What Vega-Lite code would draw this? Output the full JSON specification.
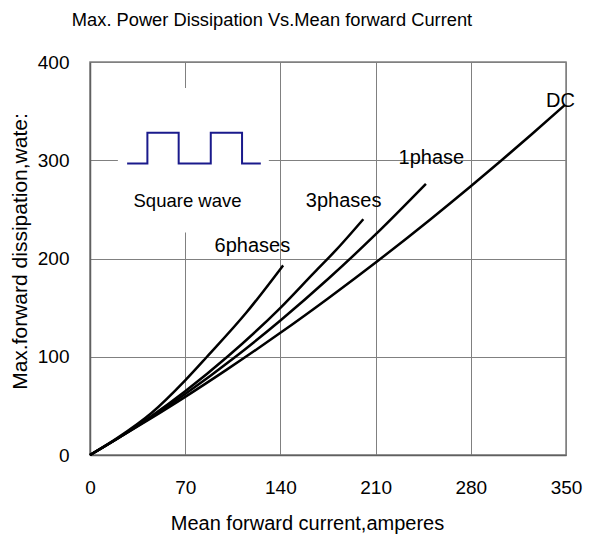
{
  "$schema": "https://vega.github.io/schema/vega-lite/v6.json",
  "width": 476,
  "height": 393,
  "autosize": {"type": "none"},
  "padding": {"left": 90, "top": 62, "right": 24, "bottom": 80},
  "background": "white",
  "config": {
    "view": {"stroke": "#808080", "strokeWidth": 1.5},
    "font": "Liberation Sans",
    "axis": {
      "labelFont": "Liberation Sans",
      "titleFont": "Liberation Sans",
      "labelColor": "black",
      "titleColor": "black",
      "titleFontWeight": "normal",
      "ticks": false,
      "gridColor": "#808080",
      "gridWidth": 1,
      "gridOpacity": 1,
      "domainColor": "#606060",
      "domainWidth": 1.5
    }
  },
  "title": {
    "text": "Max. Power Dissipation Vs.Mean forward Current",
    "font": "Liberation Sans",
    "fontSize": 18.3,
    "fontWeight": "normal",
    "color": "black",
    "anchor": "middle",
    "frame": "group",
    "dx": -56,
    "offset": 23
  },
  "datasets": {
    "curves": [
      {"series": "DC", "current": 0, "power": 0},
      {"series": "DC", "current": 20, "power": 16.5},
      {"series": "DC", "current": 45, "power": 37.5},
      {"series": "DC", "current": 70, "power": 59.2},
      {"series": "DC", "current": 100, "power": 86.4},
      {"series": "DC", "current": 140, "power": 124.4},
      {"series": "DC", "current": 175, "power": 159.4},
      {"series": "DC", "current": 212, "power": 198},
      {"series": "DC", "current": 250, "power": 239.5},
      {"series": "DC", "current": 280, "power": 273.5},
      {"series": "DC", "current": 302, "power": 299.2},
      {"series": "DC", "current": 325, "power": 326.7},
      {"series": "DC", "current": 349, "power": 356},
      {"series": "1phase", "current": 0, "power": 0},
      {"series": "1phase", "current": 20, "power": 16.5},
      {"series": "1phase", "current": 45, "power": 38.4},
      {"series": "1phase", "current": 70, "power": 62},
      {"series": "1phase", "current": 107, "power": 100},
      {"series": "1phase", "current": 140, "power": 136.9},
      {"series": "1phase", "current": 175, "power": 179.1},
      {"series": "1phase", "current": 210, "power": 224.5},
      {"series": "1phase", "current": 247, "power": 276},
      {"series": "3phases", "current": 0, "power": 0},
      {"series": "3phases", "current": 20, "power": 16.6},
      {"series": "3phases", "current": 45, "power": 39.4},
      {"series": "3phases", "current": 70, "power": 64.9},
      {"series": "3phases", "current": 101, "power": 100},
      {"series": "3phases", "current": 140, "power": 149.8},
      {"series": "3phases", "current": 165, "power": 185.9},
      {"series": "3phases", "current": 181, "power": 208.7},
      {"series": "3phases", "current": 201, "power": 240},
      {"series": "6phases", "current": 0, "power": 0},
      {"series": "6phases", "current": 20, "power": 17.2},
      {"series": "6phases", "current": 45, "power": 42.5},
      {"series": "6phases", "current": 70, "power": 76},
      {"series": "6phases", "current": 86, "power": 100},
      {"series": "6phases", "current": 115, "power": 145},
      {"series": "6phases", "current": 142, "power": 193}
    ],
    "box": [
      {"x1": 20.5, "x2": 131.5, "y1": 226.5, "y2": 373.5}
    ],
    "wave": [
      {"order": 1, "current": 27.3, "power": 296.6},
      {"order": 2, "current": 42.2, "power": 296.6},
      {"order": 3, "current": 42.2, "power": 328},
      {"order": 4, "current": 65.2, "power": 328},
      {"order": 5, "current": 65.2, "power": 296.6},
      {"order": 6, "current": 88.8, "power": 296.6},
      {"order": 7, "current": 88.8, "power": 328},
      {"order": 8, "current": 111.8, "power": 328},
      {"order": 9, "current": 111.8, "power": 296.6},
      {"order": 10, "current": 125.6, "power": 296.6}
    ],
    "labels": [
      {"label": "DC", "current": 346, "power": 360},
      {"label": "1phase", "current": 251, "power": 302.7},
      {"label": "3phases", "current": 186.5, "power": 258.6},
      {"label": "6phases", "current": 119.4, "power": 212.9},
      {"label": "Square wave", "current": 71.7, "power": 258.8}
    ]
  },
  "layer": [
    {
      "data": {"name": "curves"},
      "mark": {"type": "line", "color": "black", "strokeWidth": 2.5, "interpolate": "monotone"},
      "encoding": {
        "x": {
          "field": "current",
          "type": "quantitative",
          "scale": {"domain": [0, 350], "nice": false},
          "axis": {
            "values": [0, 70, 140, 210, 280, 350],
            "title": "Mean forward current,amperes",
            "titleFontSize": 20,
            "labelFontSize": 19,
            "labelPadding": 23,
            "titleX": 217,
            "titleY": 68,
            "titleBaseline": "middle",
            "labelFlush": false
          }
        },
        "y": {
          "field": "power",
          "type": "quantitative",
          "scale": {"domain": [0, 400], "nice": false},
          "axis": {
            "values": [0, 100, 200, 300, 400],
            "title": "Max.forward dissipation,wate:",
            "titleFontSize": 21,
            "labelFontSize": 19,
            "labelPadding": 21,
            "titleX": -70,
            "titleY": 189,
            "titleBaseline": "middle",
            "titleAlign": "center",
            "labelFlush": false
          }
        },
        "detail": {"field": "series", "type": "nominal"}
      }
    },
    {
      "data": {"name": "box"},
      "mark": {"type": "rect", "fill": "white", "stroke": null},
      "encoding": {
        "x": {"field": "x1", "type": "quantitative"},
        "x2": {"field": "x2"},
        "y": {"field": "y1", "type": "quantitative"},
        "y2": {"field": "y2"}
      }
    },
    {
      "data": {"name": "wave"},
      "mark": {"type": "line", "color": "#1a1a8c", "strokeWidth": 2},
      "encoding": {
        "x": {"field": "current", "type": "quantitative"},
        "y": {"field": "power", "type": "quantitative"},
        "order": {"field": "order", "type": "quantitative"}
      }
    },
    {
      "data": {"name": "labels"},
      "mark": {"type": "text", "font": "Liberation Sans", "color": "black", "align": "center", "baseline": "middle"},
      "encoding": {
        "x": {"field": "current", "type": "quantitative"},
        "y": {"field": "power", "type": "quantitative"},
        "text": {"field": "label", "type": "nominal"},
        "size": {"condition": {"test": "datum.label === 'Square wave'", "value": 18.5}, "value": 20}
      }
    }
  ]
}
